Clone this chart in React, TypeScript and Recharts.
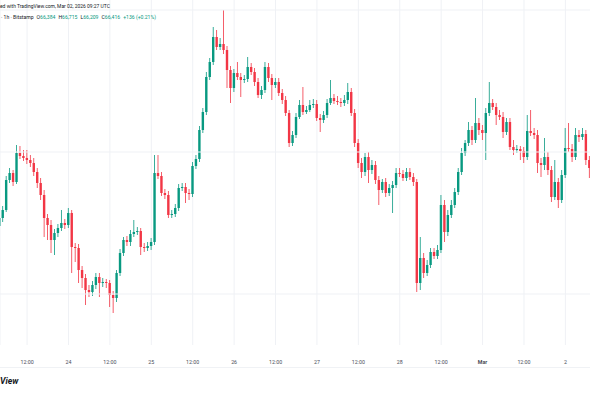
import React from 'react';
import { ComposedChart, Bar, XAxis, YAxis, CartesianGrid, ReferenceLine } from 'recharts';

// hours counted from Feb 24 00:00 UTC, first candle at Feb 23 04:00
const hourStart = -20;

const openPrices = [
  64850, 65050, 65250, 66000, 66175, 65950, 66675, 66600, 66550, 66500, 66425, 66200, 65925, 65625, 65050, 64875,
  64500, 64675, 64800, 64925, 64875, 65175, 64325, 64300, 63750, 63550, 63250, 63200, 63375, 63575, 63425, 63450,
  63425, 63125, 63050, 63675, 64175, 64500, 64450, 64650, 64700, 64725, 64325, 64300, 64350, 64450, 66175, 66100,
  65675, 65625, 65125, 65150, 65300, 65800, 65825, 65675, 65650, 66350, 66525, 67250, 67700, 68575, 68950, 69575,
  69325, 69400, 69250, 68750, 68300, 68675, 68575, 68500, 68525, 68825, 68700, 68450, 68125, 68250, 68825, 68550,
  68375, 68450, 68175, 68000, 67675, 66925, 67125, 67575, 67875, 67700, 67750, 67875, 67900, 67550, 67500, 67625,
  67925, 68050, 67975, 67950, 67925, 68000, 68200, 67675, 66925, 66425, 66200, 66575, 66250, 66375, 66000, 65750,
  65950, 65675, 65800, 65875, 66175, 66150, 66050, 66200, 66075, 65950, 63425, 64050, 63675, 63875, 64200, 64100,
  64250, 65375, 64700, 65125, 65375, 65700, 66200, 66675, 66925, 67250, 67000, 67425, 67250, 67175, 67675, 67925,
  67825, 67625, 67575, 67200, 67450, 66825, 66750, 66775, 66725, 66575, 67225, 67175, 67125, 66425, 66375, 66575,
  66250, 65575, 65950, 65500, 66125, 66800, 66775, 66575, 67125, 67075, 67150, 66500,
];
const highPrices = [
  65150, 65350, 66100, 66300, 66250, 66875, 66850, 66750, 66750, 66625, 66550, 66300, 66050, 65750, 65150, 65000,
  64775, 64900, 65250, 65025, 65300, 65250, 64425, 64400, 63850, 63650, 63375, 63475, 63675, 63675, 63550, 63525,
  63500, 63225, 63750, 64275, 64575, 64600, 64750, 65000, 64825, 64800, 64425, 64450, 64550, 66625, 66625, 66200,
  65775, 65725, 65250, 65400, 65900, 65925, 65925, 65775, 66450, 66625, 67350, 67800, 68700, 69050, 69825, 69750,
  69550, 70250, 69350, 68850, 68775, 68950, 68675, 68625, 69075, 68925, 68800, 68550, 68350, 68950, 68925, 68650,
  68550, 68550, 68275, 68100, 67750, 67225, 67675, 68000, 68325, 67850, 68000, 68025, 68000, 67650, 67725, 68025,
  68500, 68150, 68100, 68050, 68125, 68425, 68300, 67775, 67025, 66550, 66675, 66700, 66500, 66475, 66100, 66025,
  66050, 65900, 65975, 66300, 66300, 66250, 66300, 66300, 66175, 66025, 64575, 64175, 64000, 64300, 64300, 64375,
  65625, 65500, 65250, 65500, 65800, 66300, 66800, 67000, 67450, 67350, 68050, 67550, 67375, 67800, 68450, 68025,
  67925, 67750, 67700, 67550, 67550, 67000, 66875, 66850, 66825, 67625, 67750, 67300, 67250, 66550, 67050, 66700,
  66350, 66500, 66050, 66250, 67300, 67425, 66900, 67300, 67250, 67300, 67250, 66600,
];
const lowPrices = [
  64775, 64950, 65200, 65925, 65850, 65900, 66525, 66475, 66400, 66325, 66100, 65800, 65500, 64575, 64500, 64175,
  64125, 64575, 64725, 64775, 64800, 63675, 63950, 63425, 63300, 62875, 63075, 63100, 63275, 63075, 63325, 63300,
  62825, 62675, 62950, 63600, 64100, 64350, 64350, 64575, 64625, 64125, 64200, 64225, 64250, 64375, 66025, 65600,
  65525, 65050, 65050, 65075, 65225, 65725, 65425, 65500, 65575, 66275, 66450, 67175, 67625, 68500, 68875, 69250,
  69250, 69150, 68300, 67925, 68200, 68500, 68075, 68425, 68450, 68625, 68350, 68050, 68025, 68175, 68450, 68000,
  68300, 68100, 67900, 67600, 66825, 66850, 67050, 67525, 67625, 67650, 67700, 67800, 67475, 67200, 67425, 67550,
  67875, 67900, 67875, 67825, 67850, 67900, 67600, 66825, 66300, 66050, 66100, 65925, 66150, 65900, 65375, 65675,
  65575, 65600, 65175, 65800, 66075, 65975, 65975, 66000, 65850, 63200, 63250, 63550, 63600, 63800, 64025, 64025,
  64175, 64450, 64600, 65050, 65300, 65625, 66125, 66600, 66850, 66875, 66925, 67125, 67000, 66500, 67600, 67750,
  67375, 67500, 67050, 67125, 66750, 66625, 66675, 66500, 66425, 66500, 67100, 67025, 66175, 66075, 66250, 66125,
  65450, 65500, 65300, 65425, 66050, 66700, 66450, 66500, 66950, 67000, 66375, 66050,
];
const closePrices = [
  65050, 65250, 66000, 66175, 65950, 66675, 66600, 66550, 66500, 66425, 66200, 65925, 65625, 65050, 64875, 64500,
  64675, 64800, 64925, 64875, 65175, 64325, 64300, 63750, 63550, 63250, 63200, 63375, 63575, 63425, 63450, 63425,
  63125, 63050, 63675, 64175, 64500, 64450, 64650, 64700, 64725, 64325, 64300, 64350, 64450, 66175, 66100, 65675,
  65625, 65125, 65150, 65300, 65800, 65825, 65675, 65650, 66350, 66525, 67250, 67700, 68575, 68950, 69575, 69325,
  69400, 69250, 68750, 68300, 68675, 68575, 68500, 68525, 68825, 68700, 68450, 68125, 68250, 68825, 68550, 68375,
  68450, 68175, 68000, 67675, 66925, 67125, 67575, 67875, 67700, 67750, 67875, 67900, 67550, 67500, 67625, 67925,
  68050, 67975, 67950, 67925, 68000, 68200, 67675, 66925, 66425, 66200, 66575, 66250, 66375, 66000, 65750, 65950,
  65675, 65800, 65875, 66175, 66150, 66050, 66200, 66075, 65950, 63425, 64050, 63675, 63875, 64200, 64100, 64250,
  65375, 64700, 65125, 65375, 65700, 66200, 66675, 66925, 67250, 67000, 67425, 67250, 67175, 67675, 67925, 67825,
  67625, 67575, 67200, 67450, 66825, 66750, 66775, 66725, 66575, 67225, 67175, 67125, 66425, 66375, 66575, 66250,
  65575, 65950, 65500, 66125, 66800, 66775, 66575, 67125, 67075, 67150, 66500, 66300,
];

const tickHours = [-12, 0, 12, 24, 36, 48, 60, 72, 84, 96, 108, 120, 132, 144];
const tickLabels = ['12:00', '24', '12:00', '25', '12:00', '26', '12:00', '27', '12:00', '28', '12:00', 'Mar', '12:00', '2'];
const gridPrices = [70250, 66700, 63150];

const UP = '#089981';
const DOWN = '#f23645';
const TEXT = '#131722';

const candles = closePrices.map((close, i) => ({
  t: hourStart + i,
  open: openPrices[i],
  high: highPrices[i],
  low: lowPrices[i],
  close,
  range: [lowPrices[i], highPrices[i]],
}));

const Candle = (props: any) => {
  const { x, y, width, height, payload } = props;
  if (x == null || y == null || !payload) return null;
  const top = Math.min(y, y + height);
  const h = Math.abs(height);
  const { open, close, high, low } = payload;
  const k = high > low ? h / (high - low) : 0;
  const yOpen = top + (high - open) * k;
  const yClose = top + (high - close) * k;
  const color = close >= open ? UP : DOWN;
  const cx = x + width / 2;
  const bodyW = 2.4;
  const bodyTop = Math.min(yOpen, yClose);
  const bodyH = Math.max(1, Math.abs(yClose - yOpen));
  return (
    <g>
      <rect x={cx - 0.4} y={top} width={0.8} height={h} fill={color} />
      <rect x={cx - bodyW / 2} y={bodyTop} width={bodyW} height={bodyH} fill={color} />
    </g>
  );
};

const TimeTick = (props: any) => {
  const { x, y, payload } = props;
  const label = tickLabels[tickHours.indexOf(payload.value)];
  return (
    <text x={x} y={y} dy={3.8} textAnchor="middle" fontSize={5.3} fill="#4a4e59"
      fontWeight={label === 'Mar' ? 700 : 400} fontFamily="Roboto, sans-serif">
      {label}
    </text>
  );
};

const App: React.FC = () => {
  return (
    <div style={{ position: 'absolute', left: 0, top: 0, width: 590, height: 393, overflow: 'hidden', background: '#fff' }}>
      <ComposedChart width={600} height={393} data={candles} margin={{ top: 0, right: 0, bottom: 0, left: 0 }}>
        <CartesianGrid horizontal={false} stroke="#eff1f5" />
        <XAxis
          type="number"
          dataKey="t"
          domain={[-19.851, 154.03]}
          allowDataOverflow
          ticks={tickHours}
          interval={0}
          tick={<TimeTick />}
          height={48}
          axisLine={false}
          tickLine={false}
          tickSize={0}
          tickMargin={15}
        />
        <YAxis hide domain={[61875, 70500]} allowDataOverflow />
        {gridPrices.map(p => (
          <ReferenceLine key={p} y={p} stroke="#eff1f5" />
        ))}
        <Bar dataKey="range" barSize={3} shape={<Candle />} isAnimationActive={false} />
      </ComposedChart>
      <svg width={590} height={393} style={{ position: 'absolute', left: 0, top: 0, pointerEvents: 'none' }}>
        <text x={0} y={7.6} fontSize={4.95} fill={TEXT} fontFamily="Roboto, sans-serif">
          ed with TradingView.com, Mar 02, 2026 09:27 UTC
        </text>
        <text y={18.8} fontSize={5.1} fontFamily="Roboto, sans-serif">
          <tspan x={1} fill={TEXT}>· 1h · Bitstamp</tspan>
          <tspan dx={3} fill={TEXT}>O</tspan><tspan fill={UP}>66,384</tspan>
          <tspan dx={3} fill={TEXT}>H</tspan><tspan fill={UP}>66,715</tspan>
          <tspan dx={3} fill={TEXT}>L</tspan><tspan fill={UP}>66,209</tspan>
          <tspan dx={3} fill={TEXT}>C</tspan><tspan fill={UP}>66,416</tspan>
          <tspan dx={3} fill={UP}>+136 (+0.21%)</tspan>
        </text>
        <line x1={0} x2={590} y1={367.5} y2={367.5} stroke="#f0f2f5" />
        <text x={0} y={384} fontSize={8.6} fontWeight={700} fontStyle="italic" fill={TEXT}
          fontFamily="Roboto, sans-serif">
          View
        </text>
      </svg>
    </div>
  );
};

export default App;
